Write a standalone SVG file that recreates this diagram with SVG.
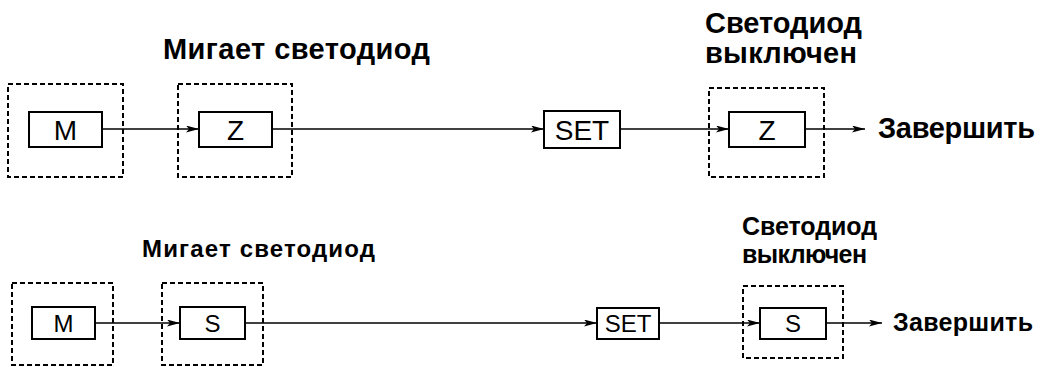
<svg xmlns="http://www.w3.org/2000/svg" width="1041" height="367" viewBox="0 0 1041 367">
<defs>
<style>
.dash{fill:none;stroke:#000;stroke-width:2;stroke-dasharray:5,3}
.box{fill:#fff;stroke:#000;stroke-width:2}
.lbl{font-family:"Liberation Sans",Arial,sans-serif;font-weight:bold;fill:#000}
.btx{font-family:"Liberation Sans",Arial,sans-serif;fill:#000;text-anchor:middle}
.conn{fill:none;stroke:#000;stroke-width:1.5}
</style>
<marker id="ah" viewBox="0 0 13 7" refX="13" refY="3.5" markerWidth="13" markerHeight="7" markerUnits="userSpaceOnUse" orient="auto">
<path d="M0,0 L13,3.5 L0,7 L3,3.5 Z" fill="#000"/>
</marker>
</defs>
<rect width="1041" height="367" fill="#fff"/>
<g id="connectors">
<line class="conn" x1="102" y1="129" x2="199" y2="129" marker-end="url(#ah)"/>
<line class="conn" x1="272" y1="129" x2="544" y2="129" marker-end="url(#ah)"/>
<line class="conn" x1="620" y1="129" x2="729" y2="129" marker-end="url(#ah)"/>
<line class="conn" x1="805" y1="129" x2="865" y2="129" marker-end="url(#ah)"/>
<line class="conn" x1="95" y1="323" x2="180" y2="323" marker-end="url(#ah)"/>
<line class="conn" x1="245" y1="323" x2="597" y2="323" marker-end="url(#ah)"/>
<line class="conn" x1="659" y1="323" x2="760" y2="323" marker-end="url(#ah)"/>
<line class="conn" x1="826" y1="323" x2="882" y2="323" marker-end="url(#ah)"/>
</g>
<g id="top-m">
<rect class="dash" x="8" y="84" width="115" height="93"/>
<rect class="box" x="29" y="112" width="73" height="35"/>
<text class="btx" x="65.5" y="140" font-size="28">M</text>
</g>
<g id="top-z1">
<rect class="dash" x="178" y="84" width="114" height="93"/>
<rect class="box" x="199" y="112" width="73" height="35"/>
<text class="btx" x="235.5" y="140" font-size="28">Z</text>
<text class="lbl" x="163" y="59" font-size="29" textLength="267" lengthAdjust="spacing">Мигает светодиод</text>
</g>
<g id="top-set">
<rect class="box" x="544" y="111" width="76" height="37"/>
<text class="btx" x="582" y="140" font-size="28">SET</text>
</g>
<g id="top-z2">
<rect class="dash" x="709" y="88" width="115" height="89"/>
<rect class="box" x="729" y="112" width="76" height="35"/>
<text class="btx" x="767" y="140" font-size="28">Z</text>
<text class="lbl" x="705" y="33" font-size="29" textLength="157" lengthAdjust="spacing">Светодиод</text>
<text class="lbl" x="705" y="63" font-size="29" textLength="152" lengthAdjust="spacing">выключен</text>
</g>
<g id="top-end">
<text class="lbl" x="878" y="138" font-size="29" textLength="157" lengthAdjust="spacing">Завершить</text>
</g>
<g id="bot-m">
<rect class="dash" x="12" y="283" width="101" height="82"/>
<rect class="box" x="32" y="307" width="63" height="32"/>
<text class="btx" x="63.5" y="332" font-size="24">M</text>
</g>
<g id="bot-s1">
<rect class="dash" x="162" y="283" width="101" height="82"/>
<rect class="box" x="180" y="307" width="65" height="32"/>
<text class="btx" x="212.5" y="332" font-size="24">S</text>
<text class="lbl" x="142" y="257" font-size="24" textLength="233" lengthAdjust="spacing">Мигает светодиод</text>
</g>
<g id="bot-set">
<rect class="box" x="597" y="308" width="62" height="31"/>
<text class="btx" x="628" y="332" font-size="24">SET</text>
</g>
<g id="bot-s2">
<rect class="dash" x="743" y="286" width="100" height="72"/>
<rect class="box" x="760" y="308" width="66" height="31"/>
<text class="btx" x="793" y="332" font-size="24">S</text>
<text class="lbl" x="742" y="235" font-size="25" textLength="135" lengthAdjust="spacing">Светодиод</text>
<text class="lbl" x="742" y="263" font-size="25" textLength="125" lengthAdjust="spacing">выключен</text>
</g>
<g id="bot-end">
<text class="lbl" x="893" y="331" font-size="25" textLength="140" lengthAdjust="spacing">Завершить</text>
</g>
</svg>
